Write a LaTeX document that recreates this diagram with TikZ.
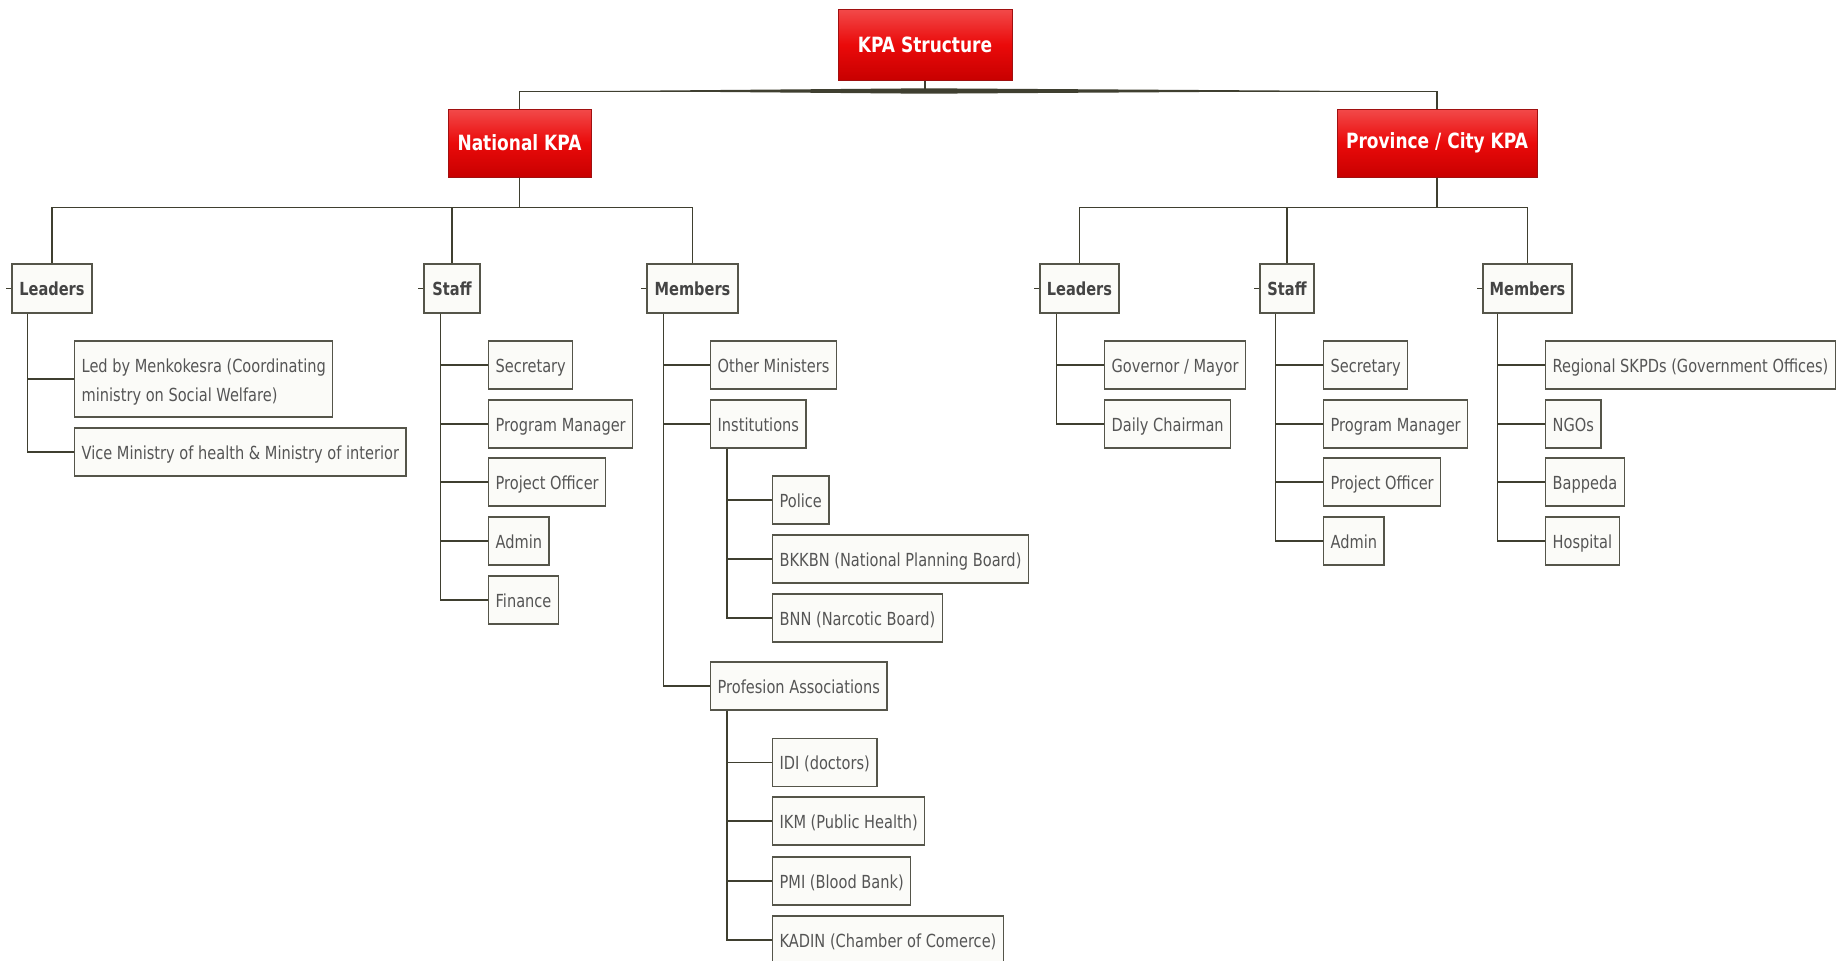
\documentclass[tikz,border=0pt]{standalone}
\usepackage{fontspec}
\setmainfont{DejaVu Sans}[FakeStretch=0.81]
\usetikzlibrary{calc}
\definecolor{linec}{HTML}{3F3F30}
\definecolor{boxb}{HTML}{55554A}
\definecolor{boxf}{HTML}{FBFBF8}
\definecolor{txt}{HTML}{555555}
\definecolor{headtxt}{HTML}{444444}
\definecolor{redA}{HTML}{F24A4A}
\definecolor{redB}{HTML}{EA0A0A}
\definecolor{redC}{HTML}{C80000}
\definecolor{redE}{HTML}{A01010}
\begin{document}
\begin{tikzpicture}[x=1pt,y=-1pt,
  redbox/.style={draw=redE, line width=1pt, top color=redA, bottom color=redC, middle color=redB,
    text=white, font=\fontsize{21}{26}\selectfont\bfseries, inner sep=0pt},
  head/.style={draw=boxb, fill=boxf, line width=1.5pt, text=headtxt,
    font=\fontsize{18}{22}\selectfont\bfseries, minimum height=49pt, inner sep=0pt},
  leaf/.style={draw=boxb, fill=boxf, line width=1.3pt, text=txt,
    font=\fontsize{18}{22}\selectfont, minimum height=48pt, inner xsep=7pt, inner ysep=0pt,
    text height=16pt, text depth=2pt, anchor=west},
  conn/.style={draw=linec, line width=1.5pt},
  tick/.style={draw=linec, line width=1pt}]
\useasboundingbox (0,0) rectangle (1845,961);
\fill[white] (0,0) rectangle (1845,961);

% ---- top level
\node[redbox, minimum width=174pt, minimum height=71pt] (kpa) at (925,44.5) {KPA Structure};
\node[redbox, minimum width=143pt, minimum height=68pt] (nat) at (519.5,143) {National KPA};
\node[redbox, minimum width=200pt, minimum height=68pt] (prov) at (1437,143) {Province / City KPA};

\draw[conn] (kpa.south) -- ++(0,11) -| (nat.north);
\draw[conn] (kpa.south) -- ++(0,11) -| (prov.north);
\fill[linec] (600,91) -- (925,88.3) -- (1360,91) -- (925,93.7) -- cycle;

% ---- second level
\node[head, minimum width=80pt] (nlead) at (52,288.5) {Leaders};
\node[head, minimum width=56pt] (nstaff) at (452,288.5) {Staff};
\node[head, minimum width=91pt] (nmem) at (692.5,288.5) {Members};
\node[head, minimum width=79pt] (plead) at (1079.5,288.5) {Leaders};
\node[head, minimum width=54pt] (pstaff) at (1287,288.5) {Staff};
\node[head, minimum width=89pt] (pmem) at (1527.5,288.5) {Members};

\foreach \n in {nlead,nstaff,nmem,plead,pstaff,pmem}{\draw[tick] (\n.west) -- ++(-5,0);}

\draw[conn] (nat.south) -- ++(0,30) -| (nlead.north);
\draw[conn] (nat.south) -- ++(0,30) -| (nstaff.north);
\draw[conn] (nat.south) -- ++(0,30) -| (nmem.north);
\draw[conn] (prov.south) -- ++(0,30) -| (plead.north);
\draw[conn] (prov.south) -- ++(0,30) -| (pstaff.north);
\draw[conn] (prov.south) -- ++(0,30) -| (pmem.north);

% ---- national leaders
\node[leaf, minimum height=76pt, text height=, text depth=, align=left,
  font=\fontsize{18}{28.5}\selectfont] (nled) at (74,379)
  {\rule{0pt}{20pt}Led by Menkokesra (Coordinating\\ministry on Social Welfare)};
\node[leaf] (nvice) at (74,452) {Vice Ministry of health \& Ministry of interior};
\foreach \c in {nled,nvice}{\draw[conn] ($(nlead.south west)+(16,0)$) |- (\c.west);}

% ---- national staff
\node[leaf] (nsec) at (488,365) {Secretary};
\node[leaf] (npm) at (488,424) {Program Manager};
\node[leaf] (npo) at (488,482) {Project Officer};
\node[leaf] (nadm) at (488,541) {Admin};
\node[leaf] (nfin) at (488,600) {Finance};
\foreach \c in {nsec,npm,npo,nadm,nfin}{\draw[conn] ($(nstaff.south west)+(17,0)$) |- (\c.west);}

% ---- national members
\node[leaf] (noth) at (710,365) {Other Ministers};
\node[leaf] (ninst) at (710,424) {Institutions};
\node[leaf] (nprof) at (710,686) {Profesion Associations};
\foreach \c in {noth,ninst,nprof}{\draw[conn] ($(nmem.south west)+(17,0)$) |- (\c.west);}

\node[leaf] (npol) at (772,500) {Police};
\node[leaf] (nbkk) at (772,559) {BKKBN (National Planning Board)};
\node[leaf] (nbnn) at (772,618) {BNN (Narcotic Board)};
\foreach \c in {npol,nbkk,nbnn}{\draw[conn] ($(ninst.south west)+(17,0)$) |- (\c.west);}

\node[leaf] (nidi) at (772,762.5) {IDI (doctors)};
\node[leaf] (nikm) at (772,821) {IKM (Public Health)};
\node[leaf] (npmi) at (772,881) {PMI (Blood Bank)};
\node[leaf] (nkad) at (772,940) {KADIN (Chamber of Comerce)};
\foreach \c in {nidi,nikm,npmi,nkad}{\draw[conn] ($(nprof.south west)+(17,0)$) |- (\c.west);}

% ---- province leaders
\node[leaf] (pgov) at (1104,365) {Governor / Mayor};
\node[leaf] (pday) at (1104,424) {Daily Chairman};
\foreach \c in {pgov,pday}{\draw[conn] ($(plead.south west)+(17,0)$) |- (\c.west);}

% ---- province staff
\node[leaf] (psec) at (1323,365) {Secretary};
\node[leaf] (ppm) at (1323,424) {Program Manager};
\node[leaf] (ppo) at (1323,482) {Project Officer};
\node[leaf] (padm) at (1323,541) {Admin};
\foreach \c in {psec,ppm,ppo,padm}{\draw[conn] ($(pstaff.south west)+(16,0)$) |- (\c.west);}

% ---- province members
\node[leaf] (preg) at (1545,365) {Regional SKPDs (Government Offices)};
\node[leaf] (pngo) at (1545,424) {NGOs};
\node[leaf] (pbap) at (1545,482) {Bappeda};
\node[leaf] (phos) at (1545,541) {Hospital};
\foreach \c in {preg,pngo,pbap,phos}{\draw[conn] ($(pmem.south west)+(15,0)$) |- (\c.west);}
\end{tikzpicture}
\end{document}
